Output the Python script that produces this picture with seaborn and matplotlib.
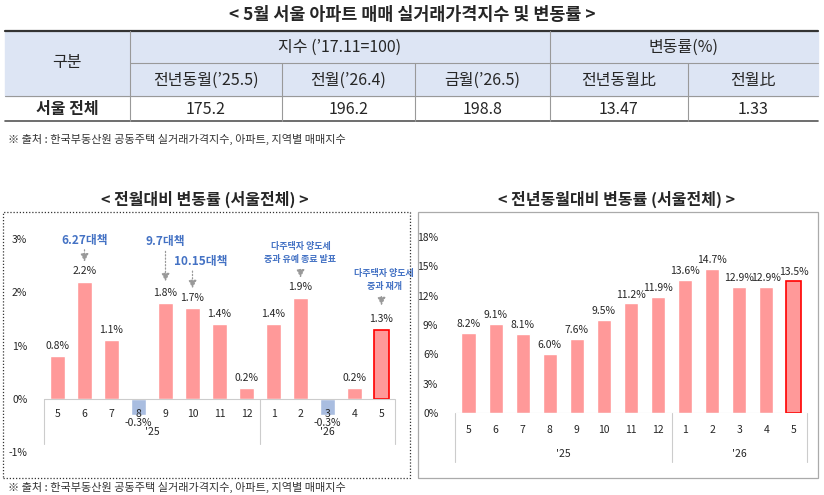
import matplotlib
matplotlib.use("Agg")
import matplotlib.pyplot as plt
import seaborn as sns
import pandas as pd
from matplotlib.patches import Rectangle

sns.set_theme(style="white")
plt.rcParams['font.family'] = ['Noto Sans CJK KR', 'DejaVu Sans']

# %% data
months = ["5", "6", "7", "8", "9", "10", "11", "12", "1", "2", "3", "4", "5"]
mom = [0.8, 2.2, 1.1, -0.3, 1.8, 1.7, 1.4, 0.2, 1.4, 1.9, -0.3, 0.2, 1.3]
yoy = [8.2, 9.1, 8.1, 6.0, 7.6, 9.5, 11.2, 11.9, 13.6, 14.7, 12.9, 12.9, 13.5]
years = ["'25", "'26"]

tbl_head1 = ["구분", "지수 (’17.11=100)", "변동률(%)"]
tbl_head2 = ["전년동월(’25.5)", "전월(’26.4)", "금월(’26.5)", "전년동월比", "전월比"]
tbl_row = ["서울 전체", "175.2", "196.2", "198.8", "13.47", "1.33"]

PINK = "#ff9999"
BLUE_BAR = "#a9bde0"
BLUE_TXT = "#4472c4"

W, H = 824, 495
fig = plt.figure(figsize=(8.24, 4.95), dpi=100)

def fx(x): return x / W
def fy(y): return 1 - y / H

# %% table
fig.text(fx(412), fy(15), "< 5월 서울 아파트 매매 실거래가격지수 및 변동률 >",
         ha="center", va="center", fontsize=12.5, fontweight="bold")
cols = [5, 130, 282, 415, 550, 688, 818]
fig.patches.append(Rectangle((fx(5), fy(96)), fx(813), fy(31) - fy(96),
                             transform=fig.transFigure, color="#dde5f4", zorder=0))
def hline(y, x0, x1, lw=0.8, c="#999999"):
    fig.add_artist(plt.Line2D([fx(x0), fx(x1)], [fy(y), fy(y)], lw=lw, color=c))
def vline(x, y0, y1, lw=0.8, c="#999999"):
    fig.add_artist(plt.Line2D([fx(x), fx(x)], [fy(y0), fy(y1)], lw=lw, color=c))
hline(31, 5, 818, lw=1.6, c="#333333")
hline(63, 130, 818)
hline(96, 5, 818)
hline(121, 5, 818, lw=1.2, c="#555555")
vline(130, 31, 121)
vline(550, 31, 121)
for x in [282, 415, 688]:
    vline(x, 63, 121)
fs = 11.5
fig.text(fx(67), fy(63), tbl_head1[0], ha="center", va="center", fontsize=fs)
fig.text(fx(340), fy(47), tbl_head1[1], ha="center", va="center", fontsize=fs)
fig.text(fx(684), fy(47), tbl_head1[2], ha="center", va="center", fontsize=fs)
for i, t in enumerate(tbl_head2):
    fig.text(fx((cols[i + 1] + cols[i + 2]) / 2), fy(80), t, ha="center", va="center", fontsize=fs)
for i, t in enumerate(tbl_row):
    fig.text(fx((cols[i] + cols[i + 1]) / 2), fy(109), t, ha="center", va="center",
             fontsize=fs, fontweight="bold" if i == 0 else "normal")
fig.text(fx(8), fy(139), "※ 출처 : 한국부동산원 공동주택 실거래가격지수, 아파트, 지역별 매매지수",
         ha="left", va="center", fontsize=8, color="#333333")
fig.text(fx(8), fy(487), "※ 출처 : 한국부동산원 공동주택 실거래가격지수, 아파트, 지역별 매매지수",
         ha="left", va="center", fontsize=8, color="#333333")

# %% chart frames and titles
fig.patches.append(Rectangle((fx(3), fy(478)), fx(407), fy(212) - fy(478), transform=fig.transFigure,
                             fill=False, ls=(0, (1, 1.5)), lw=0.9, ec="#333333"))
fig.patches.append(Rectangle((fx(418), fy(478)), fx(400), fy(212) - fy(478), transform=fig.transFigure,
                             fill=False, lw=0.9, ec="#aaaaaa"))
fig.text(fx(205), fy(199), "< 전월대비 변동률 (서울전체) >", ha="center", va="center",
         fontsize=11.5, fontweight="bold")
fig.text(fx(617), fy(199), "< 전년동월대비 변동률 (서울전체) >", ha="center", va="center",
         fontsize=11.5, fontweight="bold")

def make_axes(l, r, ybot, ytop):
    return fig.add_axes([fx(l), fy(ybot), fx(r - l), fy(ytop) - fy(ybot)])

# %% left chart: month-on-month
ax1 = make_axes(44, 395, 452, 239)
df1 = pd.DataFrame({"idx": range(13), "v": mom})
cols1 = [BLUE_BAR if v < 0 else PINK for v in mom]
sns.barplot(data=df1, x="idx", y="v", hue="idx", palette=cols1, legend=False,
            width=0.55, ax=ax1, saturation=1)
ax1.patches[-1].set_edgecolor("red")
ax1.patches[-1].set_linewidth(1.2)
ax1.set_xlim(-0.5, 12.5)
ax1.set_ylim(-1, 3)
ax1.set_yticks([-1, 0, 1, 2, 3])
ax1.set_yticklabels(["-1%", "0%", "1%", "2%", "3%"], fontsize=7.5)
ax1.tick_params(axis="y", length=0, pad=12)
ax1.set_xticks([])
ax1.set_xlabel("")
ax1.set_ylabel("")
for s in ax1.spines.values():
    s.set_visible(False)
ax1.axhline(0, color="#cccccc", lw=0.8)
for x in [-0.5, 7.5, 12.5]:
    ax1.plot([x, x], [0, -0.85], color="#cccccc", lw=0.8, clip_on=False)
for i, v in enumerate(mom):
    ax1.text(i, -0.28, months[i], ha="center", va="center", fontsize=7.5)
    if v < 0:
        ax1.text(i, -0.46, f"{v:.1f}%", ha="center", va="center", fontsize=7.5)
    else:
        ax1.text(i, v + 0.1, f"{v:.1f}%", ha="center", va="bottom", fontsize=7.5)
ax1.text(3.5, -0.63, years[0], ha="center", va="center", fontsize=7.5)
ax1.text(10, -0.63, years[1], ha="center", va="center", fontsize=7.5)

def event(ax, x, y0, y1):
    ax.annotate("", xy=(x, y1), xytext=(x, y0),
                arrowprops=dict(arrowstyle="-|>", ls=":", color="#999999", lw=0.9),
                annotation_clip=False)

ax1.text(1, 2.98, "6.27대책", ha="center", va="center", fontsize=8.5, fontweight="bold",
         color=BLUE_TXT, clip_on=False)
event(ax1, 1, 2.85, 2.52)
ax1.text(4.0, 2.96, "9.7대책", ha="center", va="center", fontsize=8.5, fontweight="bold",
         color=BLUE_TXT, clip_on=False)
event(ax1, 4, 2.82, 2.15)
ax1.text(5.3, 2.58, "10.15대책", ha="center", va="center", fontsize=8.5, fontweight="bold",
         color=BLUE_TXT, clip_on=False)
event(ax1, 5, 2.45, 2.02)
ax1.text(9, 2.74, "다주택자 양도세\n중과 유예 종료 발표", ha="center", va="center", fontsize=6.5,
         fontweight="bold", color=BLUE_TXT, linespacing=1.6, clip_on=False)
event(ax1, 9, 2.48, 2.22)
ax1.text(12.1, 2.23, "다주택자 양도세\n중과 재개", ha="center", va="center", fontsize=6.5,
         fontweight="bold", color=BLUE_TXT, linespacing=1.6, clip_on=False)
event(ax1, 12, 1.97, 1.7)

# %% right chart: year-on-year
ax2 = make_axes(455, 807, 413, 237)
df2 = pd.DataFrame({"idx": range(13), "v": yoy})
sns.barplot(data=df2, x="idx", y="v", color=PINK, width=0.52, ax=ax2, saturation=1)
ax2.patches[-1].set_edgecolor("red")
ax2.patches[-1].set_linewidth(1.2)
ax2.set_xlim(-0.5, 12.5)
ax2.set_ylim(0, 18)
ax2.set_yticks(range(0, 19, 3))
ax2.set_yticklabels([f"{t}%" for t in range(0, 19, 3)], fontsize=7.5)
ax2.tick_params(axis="y", length=0, pad=12)
ax2.set_xticks([])
ax2.set_xlabel("")
ax2.set_ylabel("")
for s in ax2.spines.values():
    s.set_visible(False)
ax2.axhline(0, color="#cccccc", lw=0.8)
for x in [-0.5, 7.5, 12.5]:
    ax2.plot([x, x], [0, -5], color="#cccccc", lw=0.8, clip_on=False)
for i, v in enumerate(yoy):
    ax2.text(i, -1.75, months[i], ha="center", va="center", fontsize=7.5)
    ax2.text(i, v + 0.4, f"{v:.1f}%", ha="center", va="bottom", fontsize=7.5)
ax2.text(3.5, -4.2, years[0], ha="center", va="center", fontsize=7.5)
ax2.text(10, -4.2, years[1], ha="center", va="center", fontsize=7.5)

fig.savefig("out.png", dpi=100)
